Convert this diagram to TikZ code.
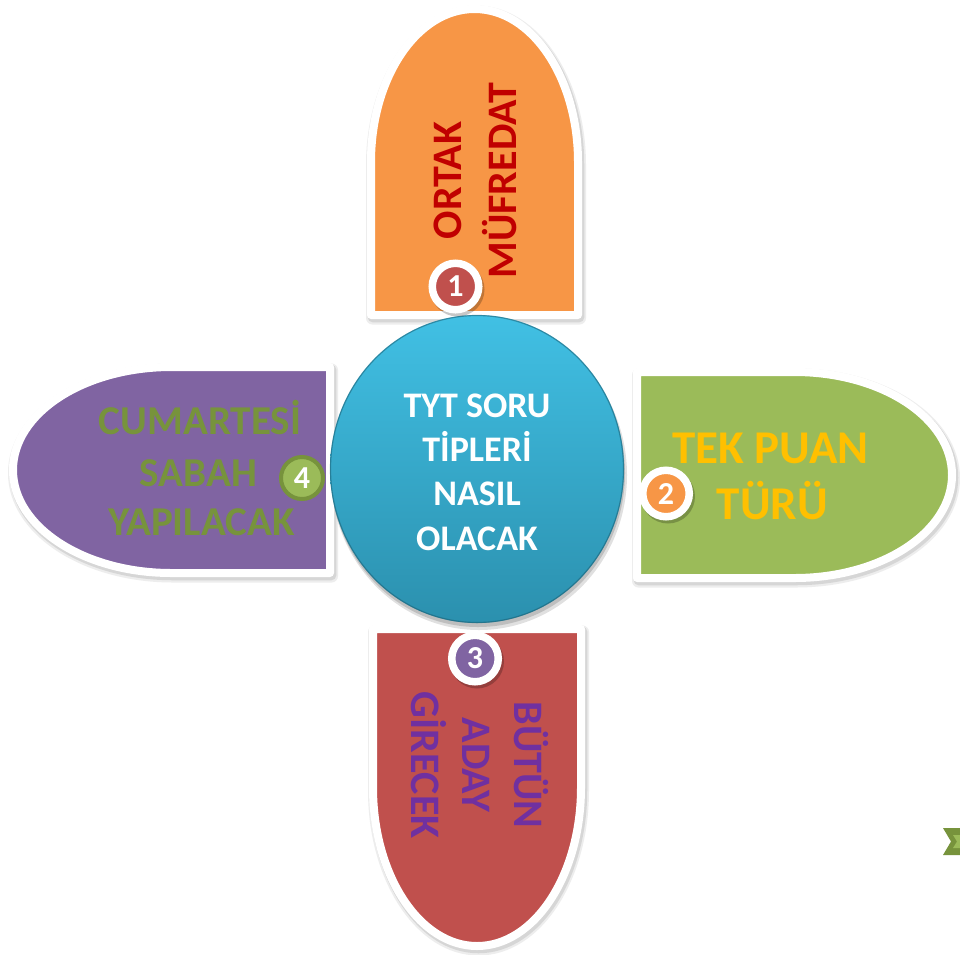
\documentclass[tikz,border=0pt]{standalone}
\usepackage{fontspec}
\setmainfont{Carlito}
\definecolor{orangeF}{HTML}{F79646}
\definecolor{greenF}{HTML}{9BBB59}
\definecolor{redF}{HTML}{C0504D}
\definecolor{purpleF}{HTML}{8064A2}
\definecolor{hubTop}{HTML}{41C0E4}
\definecolor{hubBot}{HTML}{2B90AE}
\definecolor{hubEdge}{HTML}{1B5F73}
\definecolor{txtRed}{HTML}{C00000}
\definecolor{txtGold}{HTML}{FFC000}
\definecolor{txtPurple}{HTML}{7030A0}
\definecolor{txtGreen}{HTML}{77933C}
\begin{document}
\begin{tikzpicture}[x=1pt,y=-1pt,
  petal/.style={draw=white,line width=8pt,line join=round},
  shadowA/.style={fill=black!7,draw=black!7,line width=13pt,line join=round,shift={(1.5,3)}},
  shadowB/.style={fill=black!16,draw=black!16,line width=9.5pt,line join=round,shift={(1.5,2.5)}},
  lbl/.style={font=\bfseries\fontsize{#1}{#1}\selectfont,inner sep=0pt,anchor=base},
  badge/.style={circle,fill=#1,draw=white,line width=7.5pt,minimum size=46.5pt,inner sep=0pt,
    text=white,font=\bfseries\fontsize{32}{32}\selectfont},
  badgeshadow/.style={fill=black,opacity=0.22}]
\useasboundingbox[fill=white] (0,0) rectangle (960,954);
% shadows of petals
\foreach \s in {shadowA,shadowB}{
\path[\s] (371,315) -- (371,162) arc[start angle=180,end angle=360,x radius=103.5,y radius=153] -- (578,315) -- cycle;
\path[\s] (637,372) -- (794.5,372) arc[start angle=270,end angle=450,x radius=157.5,y radius=103] -- (637,578) -- cycle;
\path[\s] (330,367) -- (171.5,367) arc[start angle=270,end angle=90,x radius=158.5,y radius=103] -- (330,573) -- cycle;
\path[\s] (373,629) -- (581,629) -- (581,787.5) arc[start angle=0,end angle=180,x radius=104,y radius=158.5] -- cycle;
}
% petals
\path[petal,fill=orangeF] (371,315) -- (371,162) arc[start angle=180,end angle=360,x radius=103.5,y radius=153] -- (578,315) -- cycle;
\path[petal,fill=greenF] (637,372) -- (794.5,372) arc[start angle=270,end angle=450,x radius=157.5,y radius=103] -- (637,578) -- cycle;
\path[petal,fill=purpleF] (330,367) -- (171.5,367) arc[start angle=270,end angle=90,x radius=158.5,y radius=103] -- (330,573) -- cycle;
\path[petal,fill=redF] (373,629) -- (581,629) -- (581,787.5) arc[start angle=0,end angle=180,x radius=104,y radius=158.5] -- cycle;
% hub
\fill[black,opacity=0.12] (479,475) ellipse[x radius=148,y radius=155];
\fill[black,opacity=0.15] (478,473) ellipse[x radius=147,y radius=154];
\shade[top color=hubTop,bottom color=hubBot] (477,469) ellipse[x radius=147,y radius=154];
\draw[hubEdge,opacity=0.55,line width=1.2pt] (477,469) ellipse[x radius=146.5,y radius=153.5];
\node[lbl=36,text=white] (h1) at (477,417) {TYT SORU};
\node[lbl=36,text=white] (h2) at (477,461) {TİPLERİ};
\node[lbl=36,text=white] (h3) at (477,505.5) {NASIL};
\node[lbl=36,text=white] (h4) at (477,550) {OLACAK};
% top texts
\node[lbl=42,text=txtRed,rotate=90] (t1) at (461.3,180.5) {ORTAK};
\node[lbl=42,text=txtRed,rotate=90] (t2) at (516.3,180.5) {MÜFREDAT};
% right texts
\node[lbl=47,text=txtGold] (r1) at (770.5,463) {TEK PUAN};
\node[lbl=47,text=txtGold] (r2) at (772.5,519) {TÜRÜ};
% bottom texts
\node[lbl=42,text=txtPurple,rotate=-90] (d1) at (514.2,765) {BÜTÜN};
\node[lbl=42,text=txtPurple,rotate=-90] (d2) at (462.5,765) {ADAY};
\node[lbl=42,text=txtPurple,rotate=-90] (d3) at (411.2,765) {GİRECEK};
% left texts
\node[lbl=41,text=txtGreen] (l1) at (200,434) {CUMARTESİ};
\node[lbl=41,text=txtGreen] (l2) at (198.5,486) {SABAH};
\node[lbl=41,text=txtGreen] (l3) at (201.5,535.5) {YAPILACAK};
% badges
\fill[badgeshadow] (457.5,289.5) circle[radius=27];
\node[badge=redF] (b1) at (455.5,286.5) {1};
\fill[badgeshadow] (668,496.5) circle[radius=27];
\node[badge=orangeF] (b2) at (666,493.5) {2};
\fill[badgeshadow] (477,661.5) circle[radius=27];
\node[badge=purpleF] (b3) at (475,658.5) {3};
\node[circle,fill=greenF,draw=txtGreen,line width=4pt,minimum size=42pt,inner sep=0pt,
  text=white,font=\bfseries\fontsize{32}{32}\selectfont] (b4) at (302,478) {4};
% small chevron at right edge
\fill[txtGreen] (943,828) -- (960,828) -- (960,855) -- (943,855) -- (951,841.5) -- cycle;
\fill[greenF] (953,835) -- (960,835) -- (960,848) -- (953,848) -- (957,841.5) -- cycle;
\end{tikzpicture}
\end{document}
